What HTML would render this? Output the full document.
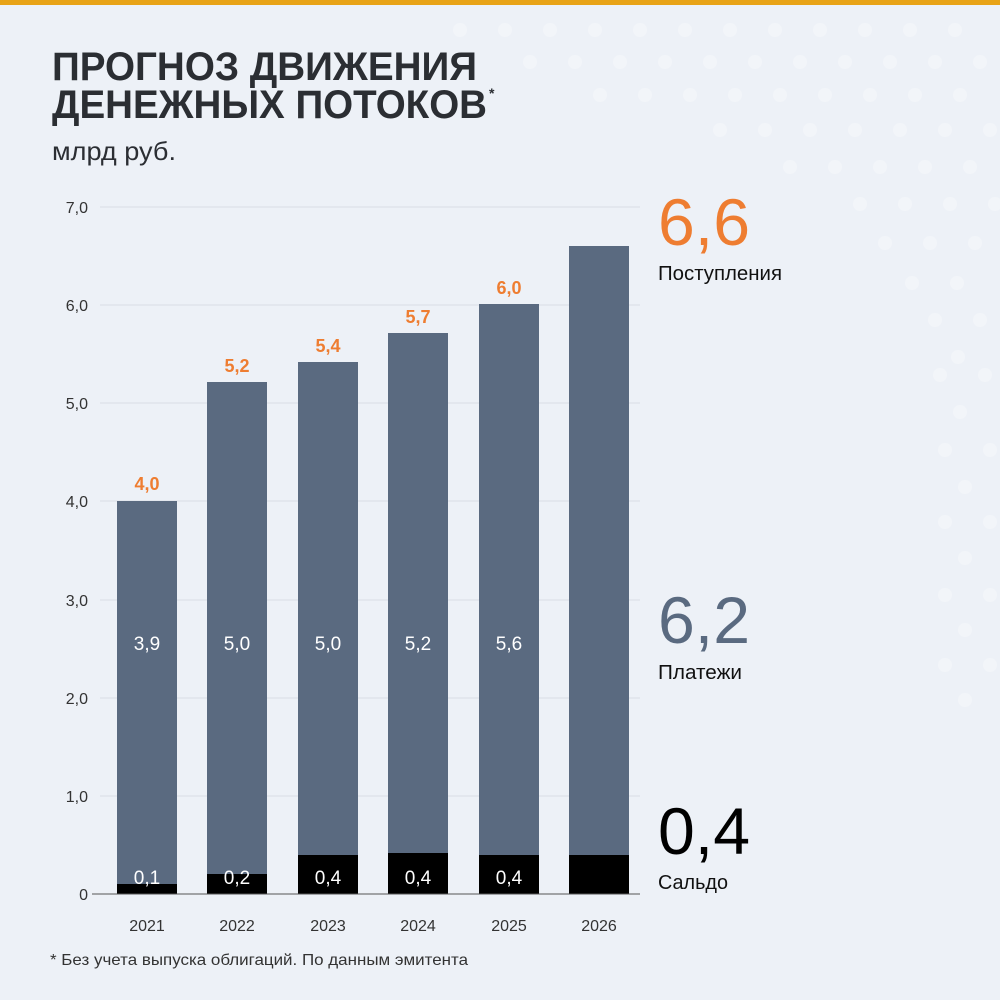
<!DOCTYPE html>
<html><head><meta charset="utf-8"><style>
body{margin:0;background:#edf1f7;}
svg{display:block;font-family:"Liberation Sans","DejaVu Sans",sans-serif;}
</style></head><body>
<svg width="1000" height="1000" viewBox="0 0 1000 1000">
<rect width="1000" height="1000" fill="#edf1f7"/>
<rect width="1000" height="5" fill="#e8a317"/>
<g fill="#f8f9fb" opacity="0.5">
<circle cx="860" cy="204" r="7"/><circle cx="905" cy="204" r="7"/><circle cx="950" cy="204" r="7"/><circle cx="995" cy="204" r="7"/>
<circle cx="885" cy="243" r="7"/><circle cx="930" cy="243" r="7"/><circle cx="975" cy="243" r="7"/>
<circle cx="912" cy="283" r="7"/><circle cx="957" cy="283" r="7"/>
<circle cx="935" cy="320" r="7"/><circle cx="980" cy="320" r="7"/>
<circle cx="958" cy="357" r="7"/><circle cx="940" cy="375" r="7"/><circle cx="985" cy="375" r="7"/>
<circle cx="960" cy="412" r="7"/><circle cx="945" cy="450" r="7"/><circle cx="990" cy="450" r="7"/>
<circle cx="965" cy="487" r="7"/><circle cx="945" cy="522" r="7"/><circle cx="990" cy="522" r="7"/>
<circle cx="965" cy="558" r="7"/><circle cx="945" cy="595" r="7"/><circle cx="990" cy="595" r="7"/>
<circle cx="965" cy="630" r="7"/><circle cx="945" cy="665" r="7"/><circle cx="990" cy="665" r="7"/>
<circle cx="965" cy="700" r="7"/>
<circle cx="460" cy="30" r="7"/><circle cx="505" cy="30" r="7"/><circle cx="550" cy="30" r="7"/><circle cx="595" cy="30" r="7"/><circle cx="640" cy="30" r="7"/><circle cx="685" cy="30" r="7"/><circle cx="730" cy="30" r="7"/><circle cx="775" cy="30" r="7"/><circle cx="820" cy="30" r="7"/><circle cx="865" cy="30" r="7"/><circle cx="910" cy="30" r="7"/><circle cx="955" cy="30" r="7"/>
<circle cx="530" cy="62" r="7"/><circle cx="575" cy="62" r="7"/><circle cx="620" cy="62" r="7"/><circle cx="665" cy="62" r="7"/><circle cx="710" cy="62" r="7"/><circle cx="755" cy="62" r="7"/><circle cx="800" cy="62" r="7"/><circle cx="845" cy="62" r="7"/><circle cx="890" cy="62" r="7"/><circle cx="935" cy="62" r="7"/><circle cx="980" cy="62" r="7"/>
<circle cx="600" cy="95" r="7"/><circle cx="645" cy="95" r="7"/><circle cx="690" cy="95" r="7"/><circle cx="735" cy="95" r="7"/><circle cx="780" cy="95" r="7"/><circle cx="825" cy="95" r="7"/><circle cx="870" cy="95" r="7"/><circle cx="915" cy="95" r="7"/><circle cx="960" cy="95" r="7"/>
<circle cx="720" cy="130" r="7"/><circle cx="765" cy="130" r="7"/><circle cx="810" cy="130" r="7"/><circle cx="855" cy="130" r="7"/><circle cx="900" cy="130" r="7"/><circle cx="945" cy="130" r="7"/><circle cx="990" cy="130" r="7"/>
<circle cx="790" cy="167" r="7"/><circle cx="835" cy="167" r="7"/><circle cx="880" cy="167" r="7"/><circle cx="925" cy="167" r="7"/><circle cx="970" cy="167" r="7"/>
</g>
<text x="52" y="80" font-size="40" font-weight="bold" fill="#2b2e33" textLength="425" lengthAdjust="spacingAndGlyphs">ПРОГНОЗ ДВИЖЕНИЯ</text>
<text x="52" y="118" font-size="40" font-weight="bold" fill="#2b2e33" textLength="435" lengthAdjust="spacingAndGlyphs">ДЕНЕЖНЫХ ПОТОКОВ</text>
<text x="489" y="98" font-size="14" font-weight="bold" fill="#2b2e33">*</text>
<text x="52" y="160" font-size="26" fill="#2b2e33" textLength="124" lengthAdjust="spacingAndGlyphs">млрд руб.</text>
<g stroke="#d9dde4" stroke-width="1">
<line x1="100" y1="796" x2="640" y2="796"/><line x1="100" y1="698" x2="640" y2="698"/><line x1="100" y1="600" x2="640" y2="600"/><line x1="100" y1="501" x2="640" y2="501"/><line x1="100" y1="403" x2="640" y2="403"/><line x1="100" y1="305" x2="640" y2="305"/><line x1="100" y1="207" x2="640" y2="207"/>
</g>
<g font-size="16" fill="#333" text-anchor="end">
<text x="88" y="900">0</text><text x="88" y="802">1,0</text><text x="88" y="704">2,0</text><text x="88" y="606">3,0</text><text x="88" y="507">4,0</text><text x="88" y="409">5,0</text><text x="88" y="311">6,0</text><text x="88" y="213">7,0</text>
</g>
<g fill="#5a6a80">
<rect x="117" y="501" width="60" height="393"/><rect x="207" y="382" width="60" height="512"/><rect x="298" y="362" width="60" height="532"/><rect x="388" y="333" width="60" height="561"/><rect x="479" y="304" width="60" height="590"/><rect x="569" y="246" width="60" height="648"/>
</g>
<g fill="#000">
<rect x="117" y="884" width="60" height="10"/><rect x="207" y="874" width="60" height="20"/><rect x="298" y="855" width="60" height="39"/><rect x="388" y="853" width="60" height="41"/><rect x="479" y="855" width="60" height="39"/><rect x="569" y="855" width="60" height="39"/>
</g>
<line x1="92" y1="894" x2="640" y2="894" stroke="#555" stroke-width="1"/>
<g font-size="18" font-weight="bold" fill="#ee7d31" text-anchor="middle">
<text x="147" y="490">4,0</text><text x="237" y="372">5,2</text><text x="328" y="352">5,4</text><text x="418" y="323">5,7</text><text x="509" y="294">6,0</text>
</g>
<g font-size="19" fill="#fff" text-anchor="middle">
<text x="147" y="650">3,9</text><text x="237" y="650">5,0</text><text x="328" y="650">5,0</text><text x="418" y="650">5,2</text><text x="509" y="650">5,6</text>
<text x="147" y="884">0,1</text><text x="237" y="884">0,2</text><text x="328" y="884">0,4</text><text x="418" y="884">0,4</text><text x="509" y="884">0,4</text>
</g>
<g font-size="16" fill="#333" text-anchor="middle">
<text x="147" y="931">2021</text><text x="237" y="931">2022</text><text x="328" y="931">2023</text><text x="418" y="931">2024</text><text x="509" y="931">2025</text><text x="599" y="931">2026</text>
</g>
<text x="50" y="965" font-size="16" fill="#333" textLength="418" lengthAdjust="spacingAndGlyphs">* Без учета выпуска облигаций. По данным эмитента</text>
<text x="658" y="245" font-size="66" fill="#ee7d31" textLength="92" lengthAdjust="spacingAndGlyphs">6,6</text>
<text x="658" y="280" font-size="20" fill="#111" textLength="124" lengthAdjust="spacingAndGlyphs">Поступления</text>
<text x="658" y="643" font-size="66" fill="#5a6a80" textLength="92" lengthAdjust="spacingAndGlyphs">6,2</text>
<text x="658" y="679" font-size="20" fill="#111" textLength="84" lengthAdjust="spacingAndGlyphs">Платежи</text>
<text x="658" y="854" font-size="66" fill="#000" textLength="92" lengthAdjust="spacingAndGlyphs">0,4</text>
<text x="658" y="889" font-size="20" fill="#111" textLength="70" lengthAdjust="spacingAndGlyphs">Сальдо</text>
</svg>
</body></html>
